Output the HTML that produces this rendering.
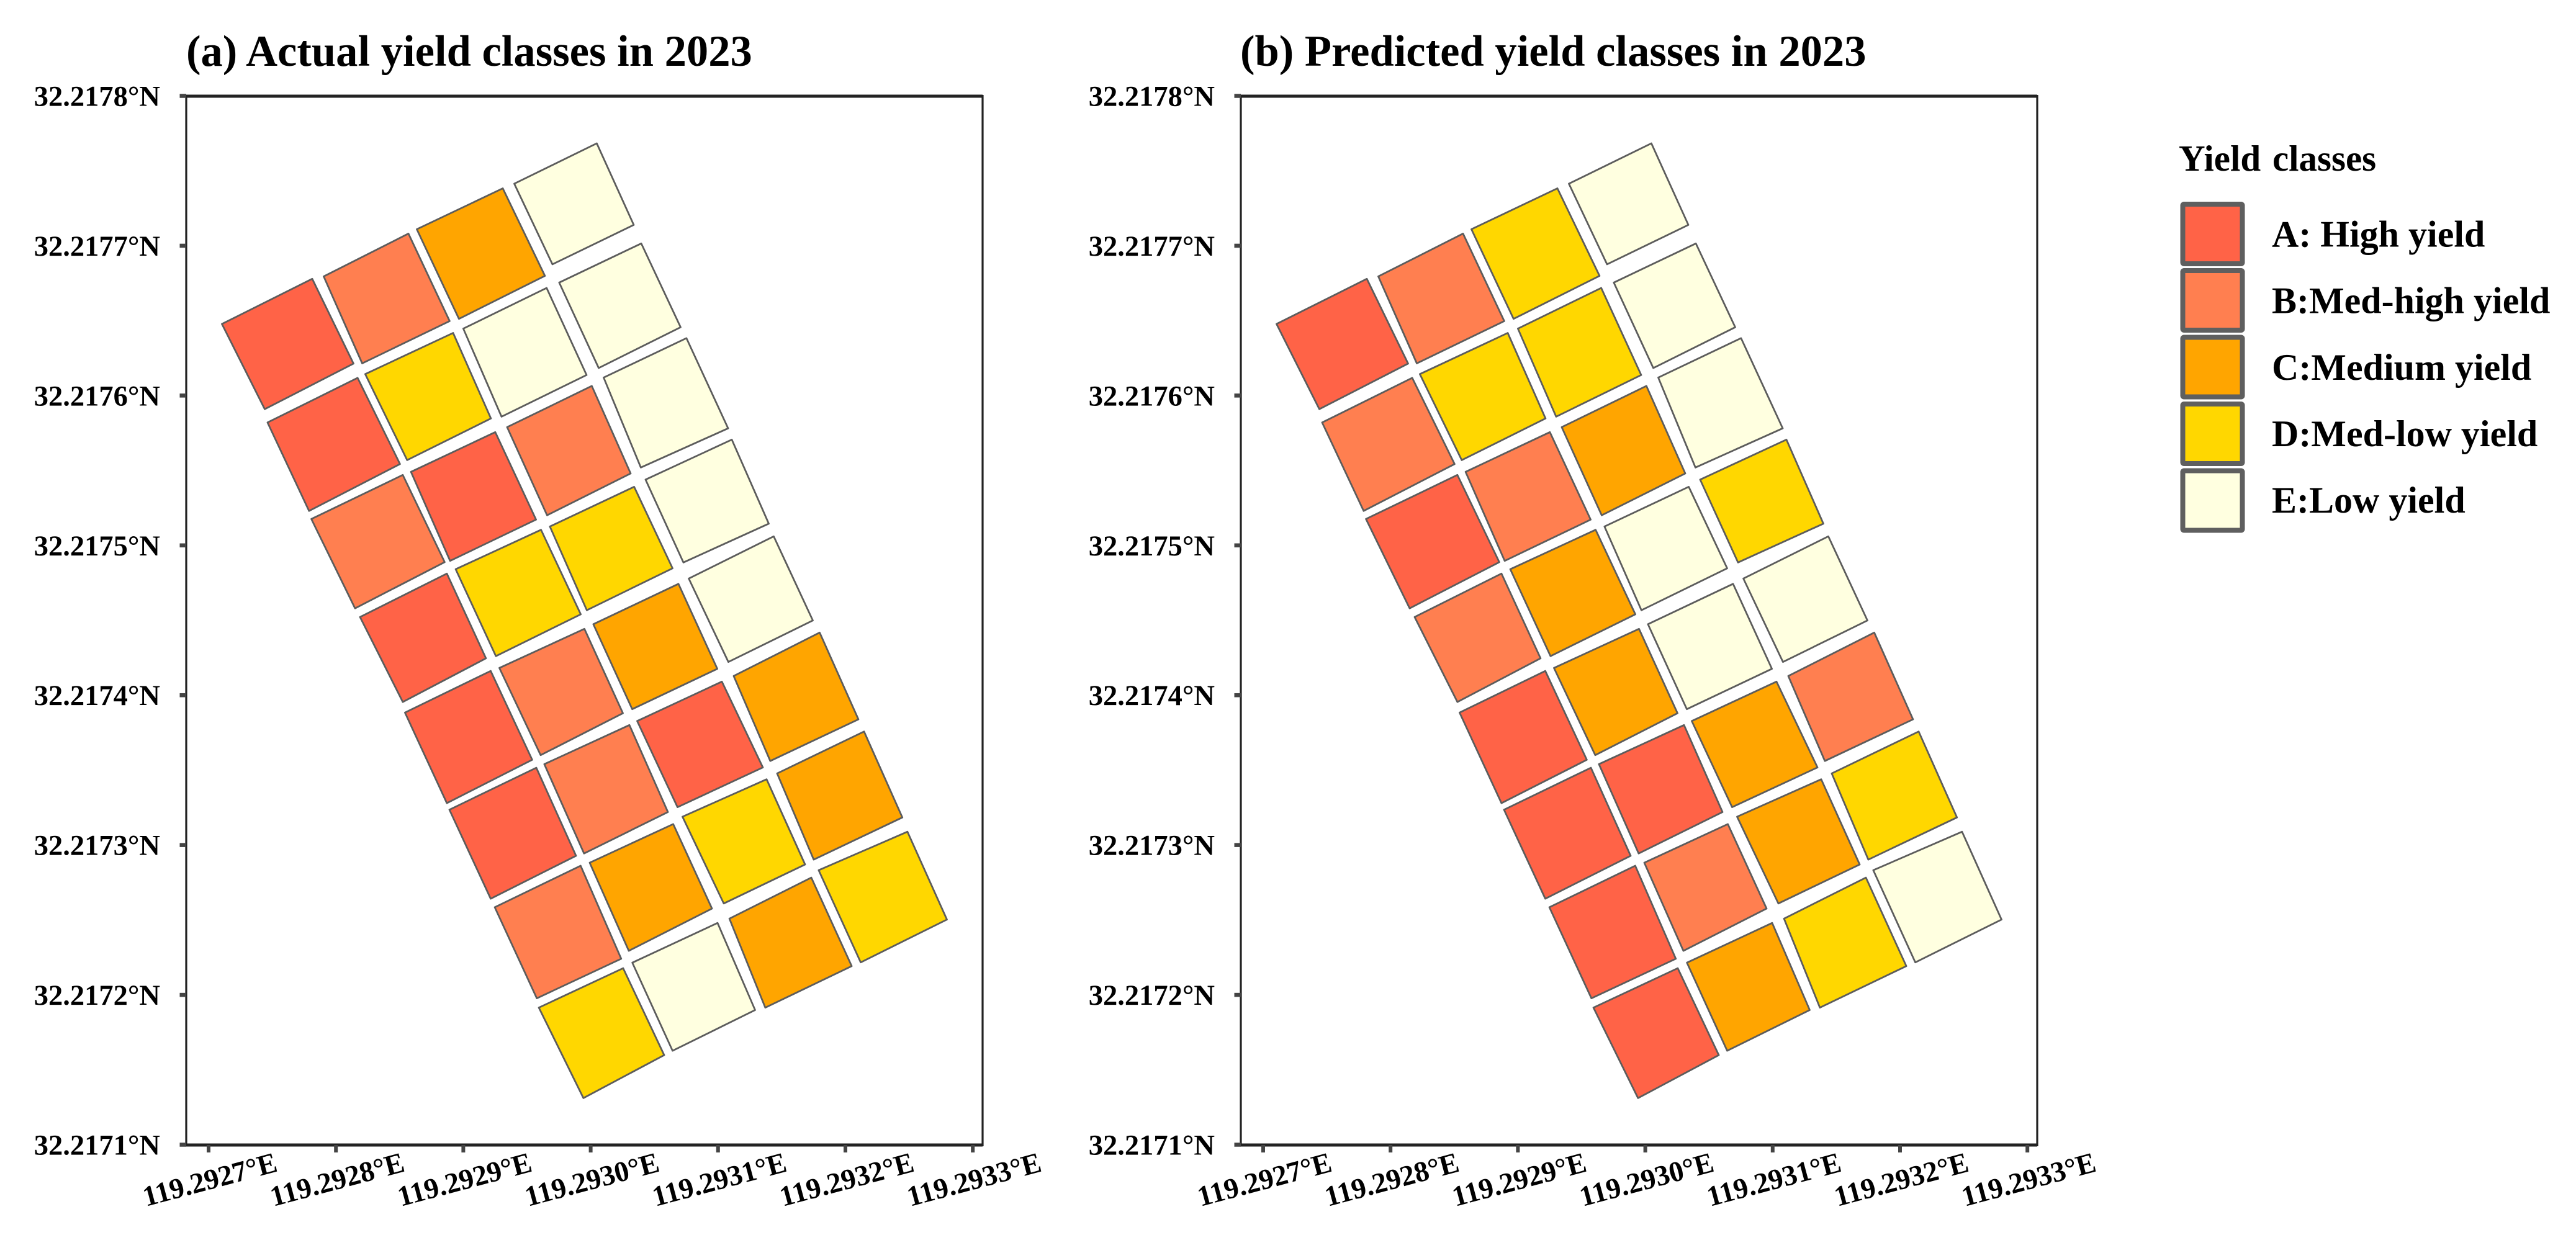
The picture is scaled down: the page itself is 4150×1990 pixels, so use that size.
<!DOCTYPE html>
<html lang="en">
<head>
<meta charset="utf-8">
<title>Actual and predicted yield classes in 2023</title>
<style>
  html, body { margin: 0; padding: 0; background: #fff; }
  svg { display: block; }
  text { font-family: "Liberation Serif", serif; font-weight: bold; fill: #000; }
</style>
</head>
<body>
<svg id="figure" xmlns="http://www.w3.org/2000/svg" width="4150" height="1990" viewBox="0 0 4150 1990">
  <rect x="0" y="0" width="4150" height="1990" fill="#ffffff"/>
  <text x="300" y="106" font-size="70.6">(a) Actual yield classes in 2023</text>
  <text x="1998" y="106" font-size="70.6">(b) Predicted yield classes in 2023</text>
  <g id="panel-a"></g>
  <g id="panel-b"></g>
  <g>
    <text x="3510" y="275" font-size="59" word-spacing="4">Yield classes</text>
    <g>
      <rect x="3516.5" y="329" width="96" height="96" rx="2" fill="#FF6347" stroke="#5f5f5f" stroke-width="8"/>
      <text x="3660" y="397.5" font-size="60">A: High yield</text>
    </g>
    <g>
      <rect x="3516.5" y="436" width="96" height="96" rx="2" fill="#FF7F50" stroke="#5f5f5f" stroke-width="8"/>
      <text x="3660" y="504.5" font-size="60">B:Med-high yield</text>
    </g>
    <g>
      <rect x="3516.5" y="543.5" width="96" height="96" rx="2" fill="#FFA500" stroke="#5f5f5f" stroke-width="8"/>
      <text x="3660" y="612" font-size="60">C:Medium yield</text>
    </g>
    <g>
      <rect x="3516.5" y="651" width="96" height="96" rx="2" fill="#FFD700" stroke="#5f5f5f" stroke-width="8"/>
      <text x="3660" y="719" font-size="60">D:Med-low yield</text>
    </g>
    <g>
      <rect x="3516.5" y="758.5" width="96" height="96" rx="2" fill="#FFFFE0" stroke="#5f5f5f" stroke-width="8"/>
      <text x="3660" y="826" font-size="60">E:Low yield</text>
    </g>
  </g>
</svg>
<script>
// Tick values and labels
const lonTicks = [119.2927, 119.2928, 119.2929, 119.2930, 119.2931, 119.2932, 119.2933];
const latTicks = [32.2171, 32.2172, 32.2173, 32.2174, 32.2175, 32.2176, 32.2177, 32.2178];
const lonTickLabels = ['119.2927°E', '119.2928°E', '119.2929°E', '119.2930°E', '119.2931°E', '119.2932°E', '119.2933°E'];
const latTickLabels = ['32.2171°N', '32.2172°N', '32.2173°N', '32.2174°N', '32.2175°N', '32.2176°N', '32.2177°N', '32.2178°N'];

// Yield class per plot, row by row (4 plots per row)
const actualClasses = [
  'A','B','C','E',
  'A','D','E','E',
  'B','A','B','E',
  'A','D','D','E',
  'A','B','C','E',
  'A','B','A','C',
  'B','C','D','C',
  'D','E','C','D'
];
const predictedClasses = [
  'A','B','D','E',
  'B','D','D','E',
  'A','B','C','E',
  'B','C','E','D',
  'A','C','E','E',
  'A','A','C','B',
  'A','B','C','D',
  'A','C','D','E'
];

// Plot corners, in millionths of a degree east of 119.2927 (west, north, east, south corner)
const plotEast = [
  [10.5,81.4,113.8,44.1],[90.4,156.9,189.3,120.6],[163.5,231.0,264.1,196.6],[240.0,304.8,333.8,270.0],
  [46.3,117.0,150.3,78.9],[123.0,192.0,221.7,155.9],[200.0,265.4,296.8,230.0],[275.3,339.7,370.6,306.3],
  [80.7,152.5,185.4,115.0],[158.9,225.1,257.1,189.6],[234.4,300.9,331.4,265.8],[310.2,375.2,407.9,339.4],
  [118.9,187.1,217.8,152.5],[194.0,261.0,292.2,225.6],[268.0,334.1,364.3,297.0],[343.1,410.8,439.8,372.8],
  [154.2,221.5,254.1,187.1],[228.3,295.1,325.3,260.7],[302.1,368.9,399.4,332.6],[377.0,443.7,474.4,408.1],
  [189.1,257.3,288.5,221.5],[263.6,330.4,360.6,294.8],[336.5,403.0,435.2,368.2],[412.3,479.8,510.2,441.0],
  [224.7,292.1,324.0,257.7],[299.2,364.8,395.2,329.9],[372.1,438.1,468.3,404.5],[446.4,514.6,544.7,475.1],
  [259.3,325.5,357.7,294.3],[332.7,399.6,429.1,364.3],[408.9,473.2,504.9,437.1],[479.0,548.7,579.7,512.0]
];
// Plot corners, in millionths of a degree north of 32.2171 (west, north, east, south corner)
const plotNorth = [
  [548.0,578.1,521.5,491.1],[579.7,608.3,549.9,521.7],[611.2,638.5,580.1,551.4],[641.6,668.5,614.1,587.8],
  [482.2,512.0,454.5,423.2],[514.5,542.0,484.9,457.1],[544.9,572.0,513.9,486.1],[575.6,601.7,545.8,518.6],
  [417.8,447.2,389.0,358.2],[449.3,475.8,417.4,389.9],[479.1,506.6,448.2,420.3],[512.2,538.5,478.3,452.2],
  [352.4,381.4,324.8,295.7],[384.3,410.6,354.2,326.3],[412.8,439.3,384.9,356.9],[444.1,470.8,414.7,388.8],
  [288.6,316.4,257.1,228.2],[318.4,344.5,288.2,260.2],[347.6,374.5,317.8,290.9],[378.1,406.2,350.1,322.4],
  [223.8,251.8,193.0,164.4],[254.2,280.3,222.2,194.6],[283.0,309.3,252.0,225.5],[313.0,342.0,284.1,256.3],
  [158.7,186.4,124.3,97.9],[188.4,214.2,157.8,129.6],[219.1,244.1,187.2,161.2],[248.0,276.0,218.6,190.5],
  [91.7,118.0,60.0,31.3],[121.7,148.2,90.1,62.9],[151.1,178.5,119.4,91.7],[183.4,209.1,150.5,121.9]
];

const classColors = { A: '#FF6347', B: '#FF7F50', C: '#FFA500', D: '#FFD700', E: '#FFFFE0' };

const SVG_NS = 'http://www.w3.org/2000/svg';
const plotBox = { left: 300, right: 1583, top: 155, bottom: 1845 };
const firstTickX = 336;
const lonTickStepPx = 205.2;

function xScale(lon, panelOffset) {
  return panelOffset + firstTickX + (lon - lonTicks[0]) / (lonTicks[1] - lonTicks[0]) * lonTickStepPx;
}
function yScale(lat) {
  const span = latTicks[latTicks.length - 1] - latTicks[0];
  return plotBox.bottom - (lat - latTicks[0]) / span * (plotBox.bottom - plotBox.top);
}
function make(tag, attrs) {
  const el = document.createElementNS(SVG_NS, tag);
  Object.keys(attrs).forEach(function (k) { el.setAttribute(k, attrs[k]); });
  return el;
}

function drawPanel(root, panelOffset, classes) {
  classes.forEach(function (cls, i) {
    const pts = plotEast[i].map(function (e, k) {
      const lon = lonTicks[0] + e * 1e-6;
      const lat = latTicks[0] + plotNorth[i][k] * 1e-6;
      return xScale(lon, panelOffset).toFixed(1) + ',' + yScale(lat).toFixed(1);
    }).join(' ');
    const poly = make('polygon', { points: pts, fill: classColors[cls], stroke: '#5c5c5c', 'stroke-width': 2.8, 'stroke-linejoin': 'round' });
    
    
    root.appendChild(poly);
  });

  const l = panelOffset + plotBox.left, r = panelOffset + plotBox.right;
  const frameSides = [
    [l, plotBox.top, r, plotBox.top, 5, 'frame-top'],
    [l, plotBox.bottom, r, plotBox.bottom, 5, 'frame-bottom'],
    [l, plotBox.top - 2, l, plotBox.bottom + 2, 3.2, 'frame-left'],
    [r, plotBox.top - 2, r, plotBox.bottom + 2, 3.2, 'frame-right']
  ];
  frameSides.forEach(function (s) {
    const line = make('line', { x1: s[0], y1: s[1], x2: s[2], y2: s[3], stroke: '#222', 'stroke-width': s[4] });
    
    
    root.appendChild(line);
  });

  latTicks.forEach(function (lat, i) {
    const y = yScale(lat);
    const tick = make('line', { x1: l - 10.5, y1: y - 0.5, x2: l, y2: y - 0.5, stroke: '#444', 'stroke-width': 6.5 });
    
    
    root.appendChild(tick);
    const label = make('text', { x: l - 42, y: y + 15.5, 'text-anchor': 'end', 'font-size': 46.5 });
    
    
    label.textContent = latTickLabels[i];
    root.appendChild(label);
  });

  lonTicks.forEach(function (lon, i) {
    const x = xScale(lon, panelOffset);
    const tick = make('line', { x1: x, y1: plotBox.bottom, x2: x, y2: plotBox.bottom + 12, stroke: '#444', 'stroke-width': 6 });
    
    
    root.appendChild(tick);
    const cx = x + 6, cy = 1915.5;
    const label = make('text', { x: cx, y: cy, 'text-anchor': 'middle', 'font-size': 46.5, transform: 'rotate(-15 ' + cx + ' ' + cy + ')' });
    
    
    label.textContent = lonTickLabels[i];
    root.appendChild(label);
  });
}

drawPanel(document.getElementById('panel-a'), 0, actualClasses);
drawPanel(document.getElementById('panel-b'), 1699, predictedClasses);
</script>
</body>
</html>
